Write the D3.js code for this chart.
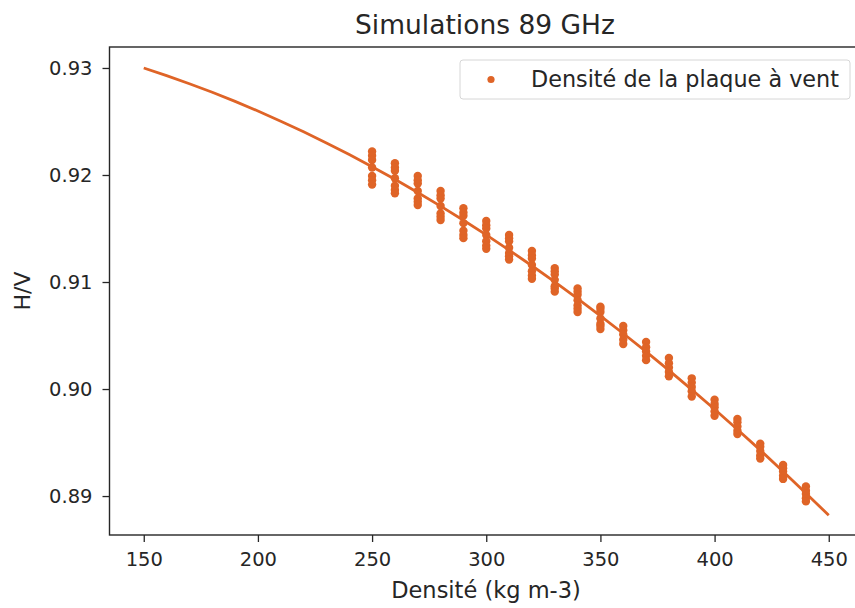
<!DOCTYPE html>
<html>
<head>
<meta charset="utf-8">
<script src="https://cdn.jsdelivr.net/npm/d3@7"></script>
<style>
  body { margin: 0; background: #fff; }
  text { font-family: "DejaVu Sans", sans-serif; fill: #262626; }
</style>
</head>
<body>
<div id="viz"></div>
<script>
// fitted curve, H/V against density
var curveDensity = [150, 160, 170, 180, 190, 200, 210, 220, 230, 240, 250, 260, 270, 280, 290, 300,
  310, 320, 330, 340, 350, 360, 370, 380, 390, 400, 410, 420, 430, 440, 450];
var curveHV = [0.93000, 0.92929, 0.92853, 0.92773, 0.92688, 0.92598, 0.92503, 0.92404, 0.92300, 0.92191,
  0.92078, 0.91960, 0.91837, 0.91709, 0.91577, 0.91440, 0.91298, 0.91152, 0.91001, 0.90845,
  0.90684, 0.90519, 0.90349, 0.90174, 0.89995, 0.89811, 0.89622, 0.89429, 0.89230, 0.89027, 0.88820];

// wind slab simulations: one list of H/V values per density
var slabDensity = [250, 260, 270, 280, 290, 300, 310, 320, 330, 340, 350, 360, 370, 380, 390, 400, 410, 420, 430, 440];
var slabHV = [
  [0.9222, 0.9218, 0.9214, 0.9207, 0.9199, 0.9195, 0.9191],
  [0.9211, 0.9207, 0.9204, 0.9197, 0.9190, 0.9186, 0.9183],
  [0.9199, 0.9195, 0.9192, 0.9185, 0.9178, 0.9175, 0.9172],
  [0.9185, 0.9181, 0.9178, 0.9171, 0.9164, 0.9161, 0.9158],
  [0.9169, 0.9165, 0.9162, 0.9155, 0.9148, 0.9144, 0.9141],
  [0.9157, 0.9153, 0.9150, 0.9144, 0.9138, 0.9134, 0.9131],
  [0.9144, 0.9141, 0.9138, 0.9132, 0.9127, 0.9124, 0.9121],
  [0.9129, 0.9125, 0.9122, 0.9116, 0.9110, 0.9106, 0.9103],
  [0.9113, 0.9110, 0.9107, 0.9102, 0.9096, 0.9094, 0.9091],
  [0.9094, 0.9091, 0.9088, 0.9083, 0.9078, 0.9075, 0.9072],
  [0.9077, 0.9075, 0.9072, 0.9066, 0.9061, 0.9059, 0.9056],
  [0.9059, 0.9055, 0.9051, 0.9046, 0.9042],
  [0.9044, 0.9039, 0.9035, 0.9031, 0.9027],
  [0.9029, 0.9024, 0.9020, 0.9016, 0.9012],
  [0.9010, 0.9006, 0.9002, 0.8998, 0.8993],
  [0.8990, 0.8986, 0.8983, 0.8979, 0.8975],
  [0.8972, 0.8969, 0.8965, 0.8961, 0.8958],
  [0.8949, 0.8946, 0.8942, 0.8938, 0.8935],
  [0.8929, 0.8926, 0.8923, 0.8919, 0.8916],
  [0.8909, 0.8905, 0.8902, 0.8898, 0.8895]
];

var xTicks = [150, 200, 250, 300, 350, 400, 450];
var yTicks = [0.89, 0.90, 0.91, 0.92, 0.93];

var title = "Simulations 89 GHz";
var xLabel = "Densité (kg m-3)";
var yLabel = "H/V";
var legendLabel = "Densité de la plaque à vent";

var orange = "#df6427";

var width = 855, height = 608;
var plot = {left: 109.5, right: 863, top: 47, bottom: 535};

var svg = d3.select("#viz").append("svg")
  .attr("width", width)
  .attr("height", height);

var x = d3.scaleLinear().domain([135, 465]).range([plot.left, plot.right]);
var y = d3.scaleLinear().domain([0.88636, 0.93196]).range([plot.bottom, plot.top]);

// curve
var line = d3.line()
  .x(function(d, i) { return x(curveDensity[i]); })
  .y(function(d) { return y(d); });

svg.append("path")
  .datum(curveHV)
  .attr("d", line)
  .attr("fill", "none")
  .attr("stroke", orange)
  .attr("stroke-width", 2.8);

// scatter points
var pts = [];
slabDensity.forEach(function(d, i) {
  slabHV[i].forEach(function(v) { pts.push({d: d, v: v}); });
});
svg.append("g").selectAll("circle")
  .data(pts)
  .enter()
  .append("circle")
  .attr("cx", function(p) { return x(p.d); })
  .attr("cy", function(p) { return y(p.v); })
  .attr("r", 4.2)
  .attr("fill", orange);

// axes
var xAxis = svg.append("g")
  .attr("transform", "translate(0," + plot.bottom + ")")
  .call(d3.axisBottom(x).tickValues(xTicks).tickFormat(d3.format("d")).tickSize(7).tickSizeOuter(0).tickPadding(10));
var yAxis = svg.append("g")
  .attr("transform", "translate(" + plot.left + ",0)")
  .call(d3.axisLeft(y).tickValues(yTicks).tickFormat(d3.format(".2f")).tickSize(7).tickSizeOuter(0).tickPadding(10));

[xAxis, yAxis].forEach(function(a) {
  a.select(".domain").remove();
  a.selectAll("line").attr("stroke", "#262626").attr("stroke-width", 1.3);
  a.selectAll("text").style("font-size", "19.5px").attr("fill", "#262626");
});

// spines
svg.append("rect")
  .attr("x", plot.left)
  .attr("y", plot.top)
  .attr("width", plot.right - plot.left)
  .attr("height", plot.bottom - plot.top)
  .attr("fill", "none")
  .attr("stroke", "#262626")
  .attr("stroke-width", 1.4);

// title and labels
svg.append("text")
  .attr("x", 485).attr("y", 34)
  .attr("text-anchor", "middle")
  .style("font-size", "26.5px")
  .text(title);

svg.append("text")
  .attr("x", 486).attr("y", 598)
  .attr("text-anchor", "middle")
  .style("font-size", "22.5px")
  .text(xLabel);

svg.append("text")
  .attr("transform", "translate(30," + 291 + ") rotate(-90)")
  .attr("text-anchor", "middle")
  .style("font-size", "22px")
  .text(yLabel);

// legend
var lg = svg.append("g");
lg.append("rect")
  .attr("x", 460).attr("y", 60)
  .attr("width", 390).attr("height", 39)
  .attr("rx", 3)
  .attr("fill", "#fff")
  .attr("fill-opacity", 0.8)
  .attr("stroke", "#d6d6d6");
lg.append("circle")
  .attr("cx", 491).attr("cy", 79.5)
  .attr("r", 3.6)
  .attr("fill", orange);
lg.append("text")
  .attr("x", 531).attr("y", 87)
  .style("font-size", "22.3px")
  .text(legendLabel);
</script>
</body>
</html>
